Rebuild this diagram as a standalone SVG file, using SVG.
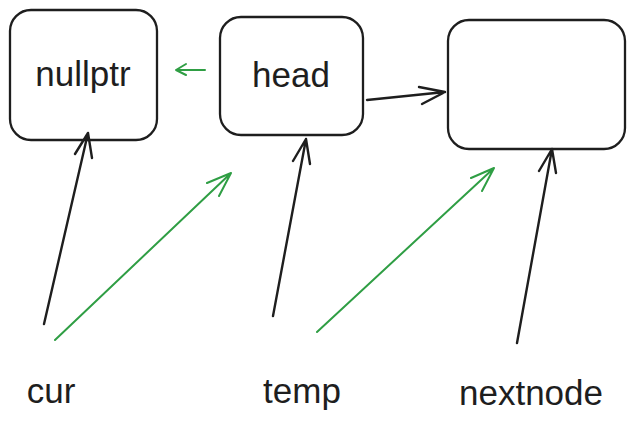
<svg xmlns="http://www.w3.org/2000/svg" width="633" height="423" viewBox="0 0 633 423">
<style>
.box{fill:none;stroke:#1e1e1e;stroke-width:2.3}
.lbl{font-family:"Liberation Sans",Arial,sans-serif;font-size:35px;fill:#1e1e1e;text-anchor:middle}
.blk{fill:none;stroke:#1e1e1e;stroke-width:2.4;stroke-linecap:round;stroke-linejoin:round}
.grn{fill:none;stroke:#2f9e44;stroke-width:2;stroke-linecap:round;stroke-linejoin:round}
</style>
<rect width="633" height="423" fill="#ffffff"/>
<g id="node-nullptr">
<rect class="box" x="10" y="10" width="147" height="130" rx="21"/>
<text class="lbl" x="83" y="86">nullptr</text>
</g>
<g id="node-head">
<rect class="box" x="220" y="17" width="143" height="118" rx="21"/>
<text class="lbl" x="291" y="87">head</text>
</g>
<g id="node-next">
<rect class="box" x="448" y="20" width="177" height="129" rx="21"/>
</g>
<g id="label-cur"><text class="lbl" x="51" y="403">cur</text></g>
<g id="label-temp"><text class="lbl" x="302" y="403">temp</text></g>
<g id="label-nextnode"><text class="lbl" x="531" y="405">nextnode</text></g>
<g id="connectors">
<path class="grn" d="M205 70 L176 70 M186 64 L176 70 L186 75"/>
<path class="blk" d="M367 100 L445 92 M419 87 L445 92 L422 104"/>
<path class="blk" d="M44 324 L88 133 M75 154 L88 133 L92 158"/>
<path class="grn" d="M55 340 L231 173 M207 183 L231 173 L219 196"/>
<path class="blk" d="M273 316 L306 139 M293 161 L306 139 L310 164"/>
<path class="grn" d="M317 332 L494 168 M471 178 L494 168 L482 191"/>
<path class="blk" d="M517 343 L552 149 M539 171 L552 149 L556 173"/>
</g>
</svg>
